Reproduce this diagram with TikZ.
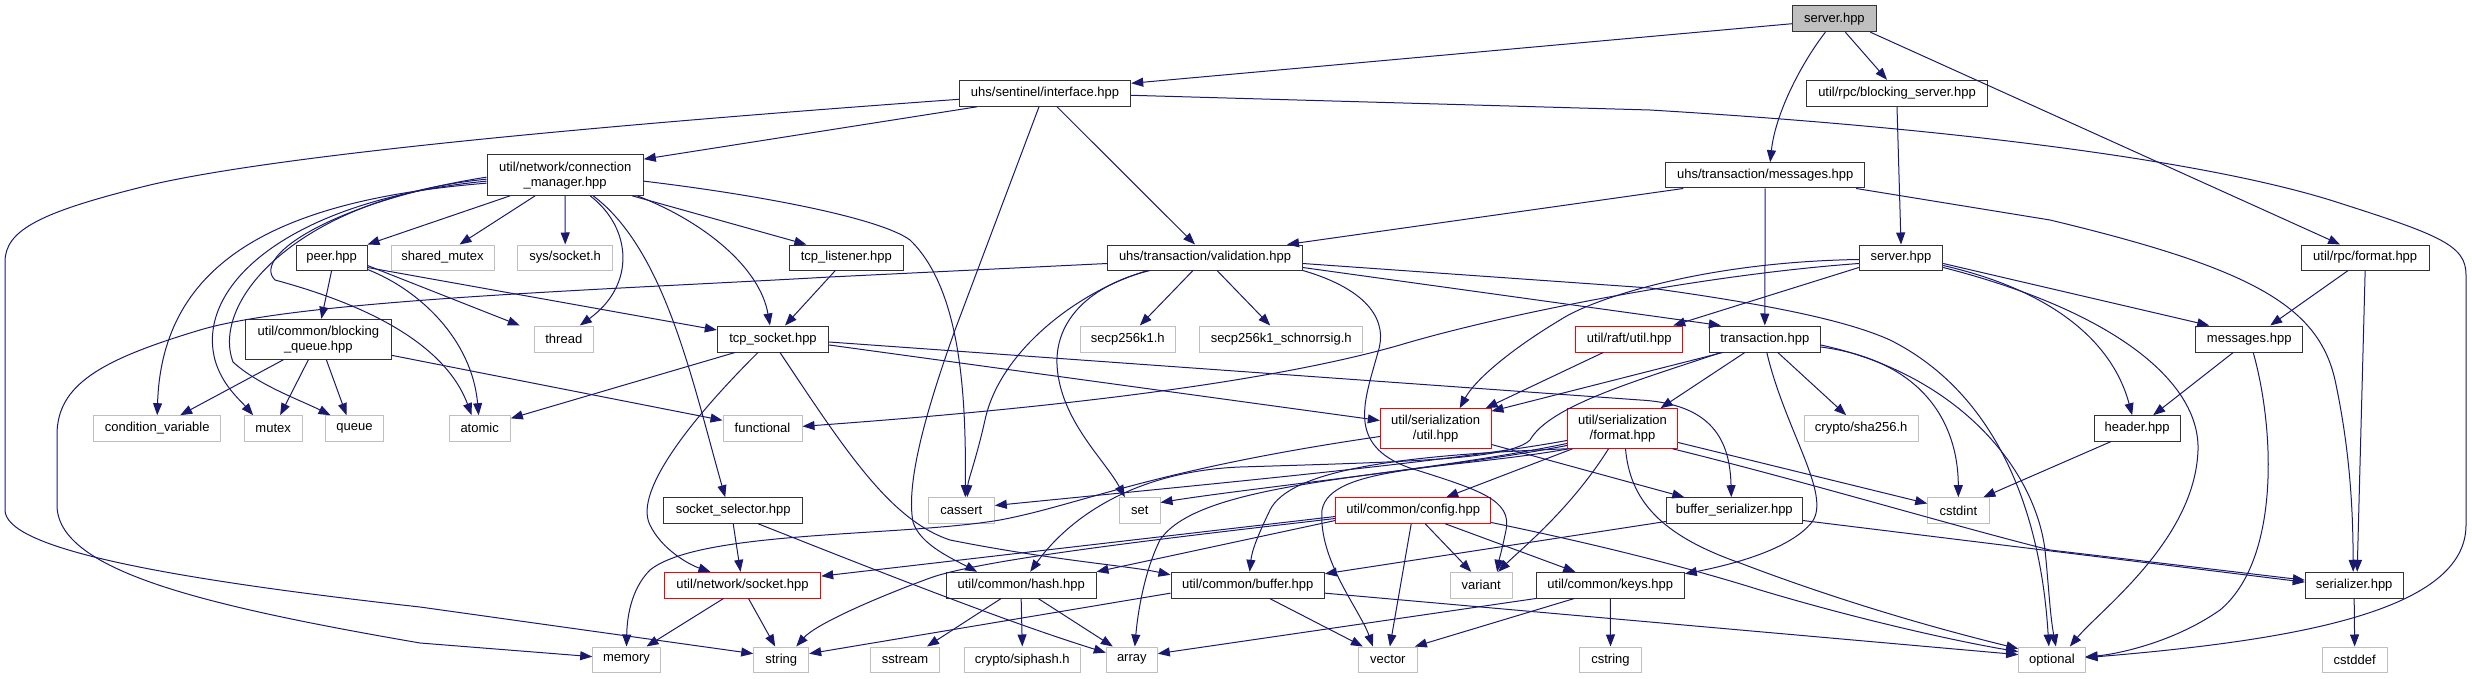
\documentclass[tikz,border=0pt]{standalone}
\usepackage{fontspec}
\setmainfont{Liberation Sans}
\usetikzlibrary{arrows.meta}
\definecolor{edgec}{HTML}{191970}
\definecolor{greyb}{HTML}{BFBFBF}
\definecolor{blkb}{HTML}{333333}
\definecolor{rootf}{HTML}{BFBFBF}
\newcommand\dnode[7]{\node[#1, minimum width={(#5)-(#3)}, minimum height={(#6)-(#4)}] (#2) at ({((#3)+(#5))/2},{((#4)+(#6))/2}) {#7};}
\begin{document}
\begin{tikzpicture}[x=1pt,y=-1pt,
  base/.style={rectangle, inner sep=0pt, font=\fontsize{13}{15}\selectfont, align=center, line width=1pt, fill=white, text=black},
  blk/.style={base, draw=blkb},
  gry/.style={base, draw=greyb},
  redbox/.style={base, draw=red},
  rootbox/.style={base, draw=blkb, fill=rootf},
  edg/.style={draw=edgec, line width=1pt, -{Triangle[length=12pt,width=9pt]}}
]
\useasboundingbox (0,0) rectangle (2472,679);
% ---------- nodes ----------
\dnode{rootbox}{root}{1792.7}{5.7}{1876}{31.7}{server.hpp}
\dnode{blk}{iface}{959.3}{80.3}{1130.7}{106.3}{uhs/sentinel/interface.hpp}
\dnode{blk}{bserv}{1806.7}{80.3}{1987.3}{106.3}{util/rpc/blocking\_server.hpp}
\dnode{blk}{cm}{487}{155}{643.3}{195.3}{util/network/connection\\\_manager.hpp}
\dnode{blk}{umsg}{1665.7}{162.7}{1864.7}{188}{uhs/transaction/messages.hpp}
\dnode{blk}{peer}{296.3}{245}{367}{270}{peer.hpp}
\dnode{gry}{shmutex}{391}{245}{494}{270}{shared\_mutex}
\dnode{gry}{syssock}{517.7}{245}{612.7}{270}{sys/socket.h}
\dnode{blk}{tcplist}{789.7}{245}{903}{270}{tcp\_listener.hpp}
\dnode{blk}{valid}{1107.7}{245}{1302.3}{270}{uhs/transaction/validation.hpp}
\dnode{blk}{smsrv}{1859.3}{245}{1942.7}{270}{server.hpp}
\dnode{blk}{rpcfmt}{2301.3}{245}{2429}{270}{util/rpc/format.hpp}
\dnode{blk}{bq}{245.7}{319.3}{391}{359.3}{util/common/blocking\\\_queue.hpp}
\dnode{gry}{thread}{534.3}{326}{593.3}{352}{thread}
\dnode{blk}{tcpsock}{717.3}{326}{828.7}{352}{tcp\_socket.hpp}
\dnode{gry}{secp}{1080.3}{326}{1175.3}{352}{secp256k1.h}
\dnode{gry}{schnorr}{1199.7}{326}{1362.7}{352}{secp256k1\_schnorrsig.h}
\dnode{redbox}{raftutil}{1575.7}{326}{1682.7}{352}{util/raft/util.hpp}
\dnode{blk}{trans}{1709.3}{326}{1820.3}{352}{transaction.hpp}
\dnode{blk}{msgs}{2195.7}{326}{2302.7}{352}{messages.hpp}
\dnode{gry}{cv}{93.7}{415.7}{220.7}{441}{condition\_variable}
\dnode{gry}{mutex}{244.3}{415.7}{302}{441}{mutex}
\dnode{gry}{queue}{325.7}{415.7}{383.3}{441}{queue}
\dnode{gry}{atomic}{449}{415.7}{510.3}{441}{atomic}
\dnode{gry}{functional}{723}{415.7}{802}{441}{functional}
\dnode{redbox}{serutil}{1380.3}{408.7}{1491}{448.3}{util/serialization\\/util.hpp}
\dnode{redbox}{serfmt}{1567.3}{408.7}{1677.7}{448.3}{util/serialization\\/format.hpp}
\dnode{gry}{sha}{1804.3}{415.7}{1918}{441}{crypto/sha256.h}
\dnode{blk}{header}{2094.3}{415.7}{2180}{441}{header.hpp}
\dnode{blk}{sockselect}{663.7}{497.7}{802.7}{523.3}{socket\_selector.hpp}
\dnode{gry}{cassert}{928.3}{497.7}{994.3}{523.3}{cassert}
\dnode{gry}{set}{1119.7}{497.7}{1160}{523.3}{set}
\dnode{redbox}{config}{1335.7}{497.7}{1490.7}{523.3}{util/common/config.hpp}
\dnode{blk}{bufser}{1666.3}{497.7}{1802.3}{523.3}{buffer\_serializer.hpp}
\dnode{gry}{cstdint}{1927.7}{497.7}{1989}{523.3}{cstdint}
\dnode{redbox}{sock}{664.3}{572.3}{820.7}{598}{util/network/socket.hpp}
\dnode{blk}{hash}{946.3}{572.3}{1096}{598}{util/common/hash.hpp}
\dnode{blk}{buffer}{1171}{572.3}{1324.3}{598}{util/common/buffer.hpp}
\dnode{gry}{variant}{1450.3}{572.3}{1512}{598}{variant}
\dnode{blk}{keys}{1536.3}{572.3}{1684.3}{598}{util/common/keys.hpp}
\dnode{blk}{serializer}{2305.3}{572.3}{2403}{598}{serializer.hpp}
\dnode{gry}{memory}{592.7}{647}{660.3}{672.3}{memory}
\dnode{gry}{string}{753.7}{647}{808.7}{672.3}{string}
\dnode{gry}{sstream}{870.3}{647}{939.7}{672.3}{sstream}
\dnode{gry}{siphash}{964.3}{647}{1080.3}{672.3}{crypto/siphash.h}
\dnode{gry}{array}{1106.3}{647}{1157.3}{672.3}{array}
\dnode{gry}{vector}{1358.7}{647}{1417}{672.3}{vector}
\dnode{gry}{cstring}{1579.7}{647}{1641.3}{672.3}{cstring}
\dnode{gry}{optional}{2018.7}{647}{2085}{672.3}{optional}
\dnode{gry}{cstddef}{2322}{647}{2387.3}{672.3}{cstddef}
% ---------- edges ----------
% root
\draw[edg] ([yshift=-5pt]root.west) -- ([yshift=10pt]iface.east);
\draw[edg] ([xshift=-9pt]root.south) .. controls (1800,65) and (1775,115) .. ([xshift=5pt]umsg.north);
\draw[edg] ([xshift=11pt]root.south) -- ([xshift=-10pt]bserv.north);
\draw[edg] ([xshift=36pt]root.south) -- ([xshift=-25pt]rpcfmt.north);
% interface
\draw[edg] ([xshift=-68pt]iface.south) -- ([yshift=16pt]cm.east);
\draw[edg] ([xshift=12pt]iface.south) -- ([xshift=-10pt]valid.north);
\draw[edg] ([yshift=-6pt]iface.west) .. controls (700,118) and (300,150) .. (150,185) .. controls (40,212) and (5,230) .. (5,262) -- (5,510) .. controls (5,548) and (160,578) .. (420,607) -- ([yshift=6pt]string.west);
\draw[edg] ([xshift=-6pt]iface.south) -- (955,330) .. controls (930,400) and (905,480) .. (913,522) .. controls (920,545) and (955,560) .. ([xshift=-44pt]hash.north);
\draw[edg] ([yshift=-2pt]iface.east) -- (1650,110) .. controls (1950,128) and (2200,160) .. (2330,200) .. controls (2440,235) and (2466,245) .. (2466,275) -- (2466,525) .. controls (2466,610) and (2300,640) .. ([yshift=2pt]optional.east);
% blocking server
\draw[edg] (bserv.south) -- (smsrv.north);
% uhs messages
\draw[edg] ([xshift=-82pt]umsg.south) -- ([xshift=82pt]valid.north);
\draw[edg] (umsg.south) -- (trans.north);
\draw[edg] ([xshift=91pt]umsg.south) -- (2050,220) .. controls (2250,268) and (2318,305) .. (2335,380) .. controls (2350,450) and (2353,510) .. ([xshift=-1pt]serializer.north);
% rpc format
\draw[edg] ([xshift=-17pt]rpcfmt.south) -- ([xshift=21pt]msgs.north);
\draw[edg] (rpcfmt.south) -- ([xshift=3pt]serializer.north);
% connection manager
\draw[edg] ([xshift=-55pt]cm.south) -- (peer.north east);
\draw[edg] ([xshift=-30pt]cm.south) -- ([xshift=17pt]shmutex.north);
\draw[edg] (cm.south) -- (syssock.north);
\draw[edg] ([xshift=25pt]cm.south) .. controls (632,228) and (636,285) .. ([xshift=16pt]thread.north);
\draw[edg] ([xshift=67pt]cm.south) -- ([xshift=-40pt]tcplist.north);
\draw[edg] ([xshift=72pt]cm.south) .. controls (705,222) and (760,268) .. ([xshift=-3pt]tcpsock.north);
\draw[edg] ([yshift=-6pt]cm.east) .. controls (760,195) and (880,218) .. (910,240) .. controls (962,290) and (966,400) .. ([xshift=4pt]cassert.north);
\draw[edg] ([xshift=28pt]cm.south) .. controls (665,250) and (692,380) .. ([xshift=-8pt]sockselect.north);
\draw[edg] ([yshift=-8pt]cm.west) .. controls (280,200) and (162,260) .. (cv.north);
\draw[edg] ([yshift=-6pt]cm.west) .. controls (290,200) and (195,285) .. (215,360) .. controls (222,385) and (240,400) .. ([xshift=-20pt]mutex.north);
\draw[edg] ([yshift=-4pt]cm.west) .. controls (300,198) and (210,300) .. (233,362) .. controls (258,385) and (300,400) .. ([xshift=-24pt]queue.north);
\draw[edg] ([yshift=-2pt]cm.west) .. controls (340,200) and (250,255) .. (275,280) .. controls (330,295) and (440,330) .. ([xshift=-8pt]atomic.north);
% peer
\draw[edg] (peer.south) -- ([xshift=3pt]bq.north);
\draw[edg] ([yshift=-8pt]peer.east) -- ([xshift=-44pt]thread.north);
\draw[edg] ([yshift=-10pt]peer.east) -- ([yshift=9pt]tcpsock.west);
\draw[edg] ([yshift=-12pt]peer.east) .. controls (420,290) and (472,340) .. ([xshift=-1pt]atomic.north);
% blocking queue
\draw[edg] ([xshift=-35pt]bq.south) -- ([xshift=23pt]cv.north);
\draw[edg] ([xshift=-10pt]bq.south) -- ([xshift=7pt]mutex.north);
\draw[edg] ([xshift=8pt]bq.south) -- ([xshift=-8pt]queue.north);
\draw[edg] ([yshift=-16pt]bq.east) -- ([yshift=8pt]functional.west);
% tcp listener
\draw[edg] ([xshift=-11pt]tcplist.south) -- ([xshift=12pt]tcpsock.north);
% tcp socket
\draw[edg] ([xshift=-38pt]tcpsock.south) -- ([yshift=10pt]atomic.east);
\draw[edg] ([xshift=-15pt]tcpsock.south) .. controls (700,410) and (632,490) .. (650,525) .. controls (662,550) and (690,565) .. ([xshift=-32pt]sock.north);
\draw[edg] ([xshift=7pt]tcpsock.south) .. controls (845,450) and (890,520) .. (950,540) .. controls (1050,560) and (1130,566) .. ([yshift=-3pt]buffer.north west);
\draw[edg] ([yshift=-6pt]tcpsock.east) -- ([yshift=8pt]serutil.west);
\draw[edg] ([yshift=-3pt]tcpsock.east) -- (1640,400) .. controls (1712,404) and (1730,440) .. ([xshift=-3pt]bufser.north);
% socket selector
\draw[edg] (sockselect.south) -- ([xshift=-2pt]sock.north);
\draw[edg] ([xshift=25pt]sockselect.south) .. controls (850,560) and (1000,620) .. ([yshift=7pt]array.west);
% socket
\draw[edg] ([xshift=-19pt]sock.south) -- ([xshift=20pt]memory.north);
\draw[edg] ([xshift=6pt]sock.south) -- ([xshift=-6pt]string.north);
% hash
\draw[edg] ([xshift=-20pt]hash.south) -- ([xshift=22pt]sstream.north);
\draw[edg] (hash.south) -- (siphash.north);
\draw[edg] ([xshift=17pt]hash.south) -- ([xshift=-19pt]array.north);
% buffer
\draw[edg] ([yshift=-8pt]buffer.west) -- ([yshift=6pt]string.east);
\draw[edg] ([xshift=22pt]buffer.south) -- ([xshift=-25pt]vector.north);
\draw[edg] ([yshift=-8pt]buffer.east) -- ([yshift=5pt]optional.west);
% keys
\draw[edg] (keys.south west) -- ([yshift=6pt]array.east);
\draw[edg] ([xshift=-36pt]keys.south) -- ([xshift=27pt]vector.north);
\draw[edg] (keys.south) -- (cstring.north);
% config
\draw[edg] ([xshift=12pt]config.south) -- ([xshift=-10pt]variant.north);
\draw[edg] ([xshift=-2pt]config.south) -- ([xshift=2pt]vector.north);
\draw[edg] ([xshift=32pt]config.south) -- ([xshift=-35pt]keys.north);
\draw[edg] ([yshift=-12pt]config.east) .. controls (1600,545) and (1690,568) .. (1760,590) .. controls (1860,620) and (1960,642) .. ([yshift=8pt]optional.west);
\draw[edg] ([yshift=-10pt]config.west) -- (hash.north east);
\draw[edg] ([yshift=-6pt]config.west) -- ([yshift=9pt]sock.east);
\draw[edg] ([yshift=-8pt]config.west) .. controls (1150,540) and (980,560) .. (930,578) .. controls (870,600) and (815,625) .. ([xshift=15pt]string.north);
% serialization util
\draw[edg] ([yshift=-8pt]serutil.west) .. controls (1150,470) and (1080,505) .. (1000,520) .. controls (900,537) and (700,530) .. (650,570) .. controls (630,590) and (627,620) .. (memory.north);
\draw[edg] ([yshift=-16pt]serutil.east) -- ([xshift=-50pt]bufser.north);
% serialization format
\draw[edg] ([xshift=-50pt]serfmt.south) -- ([xshift=33pt]config.north);
\draw[edg] ([xshift=-14pt]serfmt.south) .. controls (1570,510) and (1520,550) .. ([xshift=17pt]variant.north);
\draw[edg] ([xshift=3pt]serfmt.south) .. controls (1630,500) and (1660,535) .. (1740,563) .. controls (1850,605) and (1950,632) .. ([yshift=11pt]optional.west);
\draw[edg] ([yshift=-12pt]serfmt.west) .. controls (1450,462) and (1200,485) .. ([yshift=5pt]cassert.east);
\draw[edg] ([yshift=-15pt]serfmt.west) .. controls (1450,468) and (1250,488) .. ([yshift=8pt]set.east);
\draw[edg] ([yshift=-17pt]serfmt.west) .. controls (1400,478) and (1200,480) .. (1160,540) .. controls (1145,570) and (1138,610) .. ([xshift=3pt]array.north);
\draw[edg] (serfmt.south west) .. controls (1400,455) and (1290,470) .. (1270,510) .. controls (1258,535) and (1252,550) .. ([xshift=2pt]buffer.north);
\draw[edg] ([xshift=2pt]serfmt.south west) .. controls (1450,470) and (1330,465) .. (1322,510) .. controls (1318,560) and (1360,610) .. ([xshift=-15pt]vector.north);
\draw[edg] ([yshift=-14pt]serfmt.east) -- ([yshift=7pt]cstdint.west);
\draw[edg] ([xshift=50pt]serfmt.south) .. controls (1800,480) and (1950,525) .. (2050,550) -- ([yshift=5pt]serializer.west);
% header, buffer serializer
\draw[edg] ([xshift=-26pt]header.south) -- ([xshift=25pt]cstdint.north);
\draw[edg] ([yshift=-10pt]bufser.east) -- ([yshift=3pt]serializer.west);
\draw[edg] ([yshift=-11pt]bufser.west) -- ([yshift=-2pt]buffer.north east);
% server (middle)
\draw[edg] ([yshift=-6pt]smsrv.west) .. controls (1700,275) and (1500,315) .. (1400,345) .. controls (1250,388) and (1000,412) .. ([yshift=2pt]functional.east);
\draw[edg] ([yshift=-2pt]smsrv.west) .. controls (1700,262) and (1590,300) .. (1560,320) .. controls (1510,350) and (1475,380) .. ([xshift=24pt]serutil.north);
\draw[edg] ([yshift=-10pt]smsrv.west) -- ([xshift=44pt]raftutil.north);
\draw[edg] ([yshift=-6pt]smsrv.east) -- ([xshift=-40pt]msgs.north);
\draw[edg] ([yshift=-8pt]smsrv.east) .. controls (2050,290) and (2112,340) .. ([xshift=-5pt]header.north);
\draw[edg] ([yshift=-10pt]smsrv.east) .. controls (2110,310) and (2200,380) .. (2198,450) .. controls (2195,540) and (2100,610) .. ([xshift=18pt]optional.north);
% raft util
\draw[edg] ([xshift=-26pt]raftutil.south) -- ([xshift=50pt]serutil.north);
% transaction
\draw[edg] ([xshift=-42pt]trans.south) -- ([yshift=-3pt]serutil.north east);
\draw[edg] ([xshift=-44pt]trans.south) .. controls (1640,380) and (1550,405) .. (1530,440) .. controls (1510,460) and (1400,462) .. (1240,467) .. controls (1120,472) and (1060,530) .. ([xshift=9pt]hash.north);
\draw[edg] ([xshift=-20pt]trans.south) -- ([xshift=38pt]serfmt.north);
\draw[edg] ([xshift=13pt]trans.south) -- ([xshift=-15pt]sha.north);
\draw[edg] ([xshift=2pt]trans.south) .. controls (1785,430) and (1832,495) .. (1812,522) .. controls (1790,550) and (1730,565) .. ([yshift=-2pt]keys.north east);
\draw[edg] ([yshift=-8pt]trans.east) .. controls (1920,360) and (1958,420) .. (cstdint.north);
\draw[edg] ([yshift=-6pt]trans.east) .. controls (1960,375) and (2035,470) .. (2045,550) .. controls (2049,590) and (2050,615) .. ([xshift=4pt]optional.north);
% validation
\draw[edg] ([xshift=-12pt]valid.south) -- ([xshift=12pt]secp.north);
\draw[edg] ([xshift=12pt]valid.south) -- ([xshift=-11pt]schnorr.north);
\draw[edg] ([yshift=-10pt]valid.east) -- ([xshift=-44pt]trans.north);
\draw[edg] ([yshift=-6pt]valid.east) -- (1650,288) .. controls (1780,306) and (1850,322) .. (1890,340) .. controls (1990,390) and (2040,500) .. ([xshift=-3pt]optional.north);
\draw[edg] ([yshift=-6pt]valid.west) -- (830,277) .. controls (600,290) and (300,300) .. (200,330) .. controls (100,360) and (57,385) .. (57,435) -- (57,505) .. controls (57,570) and (200,605) .. (420,643) -- ([yshift=3pt]memory.west);
\draw[edg] ([xshift=-57pt]valid.south) .. controls (1080,290) and (1000,350) .. (985,420) .. controls (976,460) and (968,480) .. ([xshift=6pt]cassert.north);
\draw[edg] ([xshift=-55pt]valid.south) .. controls (1090,285) and (1055,320) .. (1057,365) .. controls (1060,420) and (1105,460) .. ([xshift=-15pt]set.north);
\draw[edg] (valid.south east) .. controls (1370,290) and (1388,322) .. (1378,352) .. controls (1365,400) and (1345,445) .. (1410,468) .. controls (1480,490) and (1512,500) .. (1506,530) .. controls (1502,550) and (1499,560) .. ([xshift=16pt]variant.north);
% messages
\draw[edg] ([xshift=-16pt]msgs.south) -- ([xshift=16pt]header.north);
\draw[edg] ([xshift=4pt]msgs.south) .. controls (2275,430) and (2280,560) .. (2220,610) .. controls (2170,645) and (2110,655) .. ([yshift=3pt]optional.east);
% serializer
\draw[edg] (serializer.south) -- (cstddef.north);
\end{tikzpicture}
\end{document}
